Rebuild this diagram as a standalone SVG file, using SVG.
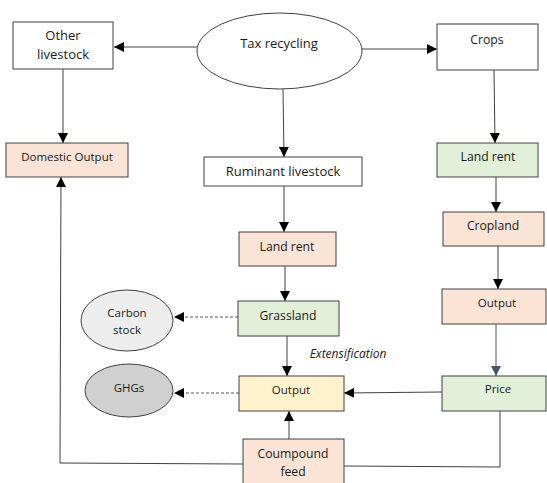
<svg xmlns="http://www.w3.org/2000/svg" width="547" height="483" viewBox="0 0 547 483">
<defs>
<marker id="ah" viewBox="0 0 10 10" refX="10" refY="5" markerWidth="10" markerHeight="10" markerUnits="userSpaceOnUse" orient="auto"><path d="M0,0 L10,5 L0,10 Z" fill="#000"/></marker>
<marker id="ahb" viewBox="0 0 10 10" refX="10" refY="5" markerWidth="10" markerHeight="10" markerUnits="userSpaceOnUse" orient="auto"><path d="M0,0 L10,5 L0,10 Z" fill="#44546A"/></marker>
<style>
text{font-family:"Open Sans","Noto Sans","Liberation Sans",sans-serif;font-size:11.5px;fill:#1a1a1a;text-anchor:middle}
.lg{font-size:13px}
.md{font-size:12.2px}
.box{stroke:#404040;stroke-width:1}
.white{fill:#fff}
.pink{fill:#FBE4D5}
.green{fill:#E2EFD9}
.yellow{fill:#FFF2CC}
.ln{fill:none;stroke:#404040;stroke-width:1}
.dash{fill:none;stroke:#555;stroke-width:1;stroke-dasharray:3,2}
</style>
</defs>
<rect width="547" height="483" fill="#fff"/>
<g id="connectors">
<line class="ln" x1="197" y1="47" x2="114" y2="47" marker-end="url(#ah)"/>
<line class="ln" x1="362" y1="49" x2="437" y2="49" marker-end="url(#ah)"/>
<line class="ln" x1="283" y1="89" x2="284" y2="157" marker-end="url(#ah)"/>
<line class="ln" x1="63" y1="69" x2="63" y2="143" marker-end="url(#ah)"/>
<line class="ln" x1="494" y1="70" x2="495" y2="143" marker-end="url(#ah)"/>
<line class="ln" x1="284" y1="186" x2="284" y2="232" marker-end="url(#ah)"/>
<line class="ln" x1="496" y1="177" x2="496" y2="212" marker-end="url(#ah)"/>
<line class="ln" x1="285" y1="266" x2="285" y2="301" marker-end="url(#ah)"/>
<line class="ln" x1="498" y1="246" x2="498" y2="289" marker-end="url(#ah)"/>
<line class="ln" x1="287" y1="336" x2="287" y2="376" marker-end="url(#ah)"/>
<line x1="496" y1="324" x2="496" y2="376" stroke="#44546A" stroke-width="1" marker-end="url(#ahb)"/>
<line class="ln" x1="442" y1="392" x2="344" y2="393" marker-end="url(#ah)"/>
<line class="ln" x1="289" y1="439" x2="289" y2="411" marker-end="url(#ah)"/>
<line class="dash" x1="238" y1="317" x2="174" y2="317" marker-end="url(#ah)"/>
<line class="dash" x1="239" y1="393" x2="174" y2="393" marker-end="url(#ah)"/>
<polyline class="ln" points="243,464 60,463 61,177" marker-end="url(#ah)"/>
<polyline class="ln" points="500,411 500,467 344,466"/>
</g>
<g id="tax-recycling"><ellipse cx="279.5" cy="51" rx="82.5" ry="38" fill="#fff" stroke="#404040"/><text class="lg" x="279" y="48">Tax recycling</text></g>
<g id="other-livestock"><rect class="box white" x="13" y="22" width="100" height="47"/><text class="lg" x="63" y="40">Other</text><text class="lg" x="63" y="59">livestock</text></g>
<g id="crops"><rect class="box white" x="437" y="24" width="101" height="46"/><text class="md" x="487" y="44">Crops</text></g>
<g id="domestic-output"><rect class="box pink" x="6" y="143" width="122" height="34"/><text x="67" y="161">Domestic Output</text></g>
<g id="ruminant-livestock"><rect class="box white" x="204" y="157" width="158" height="29"/><text class="lg" x="283" y="176">Ruminant livestock</text></g>
<g id="land-rent-crops"><rect class="box green" x="437" y="143" width="101" height="34"/><text class="md" x="488" y="161">Land rent</text></g>
<g id="land-rent-livestock"><rect class="box pink" x="239" y="232" width="97" height="34"/><text class="md" x="287" y="251">Land rent</text></g>
<g id="cropland"><rect class="box pink" x="443" y="212" width="101" height="34"/><text class="md" x="493" y="230">Cropland</text></g>
<g id="grassland"><rect class="box green" x="238" y="301" width="101" height="35"/><text class="md" x="288" y="320">Grassland</text></g>
<g id="output-crops"><rect class="box pink" x="442" y="289" width="104" height="35"/><text x="497" y="307">Output</text></g>
<g id="carbon-stock"><ellipse cx="127" cy="320.5" rx="46" ry="30.5" fill="#EDEDED" stroke="#404040"/><text x="127" y="317">Carbon</text><text x="127" y="334">stock</text></g>
<g id="output-livestock"><rect class="box yellow" x="239" y="376" width="105" height="35"/><text x="291" y="394">Output</text></g>
<g id="price"><rect class="box green" x="442" y="376" width="104" height="35"/><text x="498" y="393">Price</text></g>
<g id="ghgs"><ellipse cx="129" cy="390.5" rx="44" ry="26.5" fill="#D0D0D0" stroke="#404040"/><text x="129" y="392">GHGs</text></g>
<g id="compound-feed"><rect class="box pink" x="243" y="439" width="101" height="50"/><text class="md" x="293" y="458">Coumpound</text><text class="md" x="293" y="476">feed</text></g>
<text x="348" y="358" style="font-style:italic;font-size:12px">Extensification</text>
</svg>
